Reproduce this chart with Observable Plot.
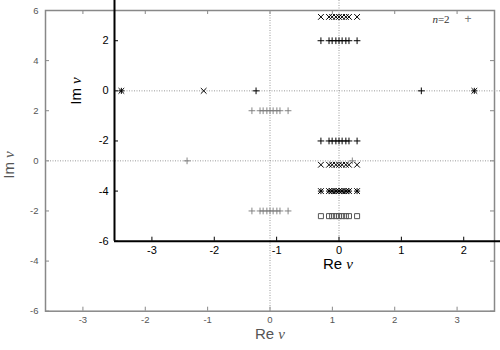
<!DOCTYPE html>
<html><head><meta charset="utf-8">
<script src="https://cdn.jsdelivr.net/npm/d3@7"></script>
<script src="https://cdn.jsdelivr.net/npm/@observablehq/plot@0.6"></script>
<style>
html,body{margin:0;padding:0;background:#fff;}
#wrap{position:relative;width:500px;height:350px;overflow:hidden;background:#fff;font-family:"Liberation Sans",Arial,sans-serif;}
#outer,#inner{position:absolute;width:500px;height:350px;}
#outer{left:0;top:0;}
#inner{left:69px;top:-70px;}
#outer svg,#inner svg{max-width:none;display:block;}
.lab{position:absolute;font-size:15px;white-space:nowrap;line-height:1;transform:translate(-50%,-50%);}
.lab i{font-family:"Liberation Serif",serif;font-style:italic;}
.rot{transform:translate(-50%,-50%) rotate(-90deg);}
.leg{position:absolute;font-family:"Liberation Serif",serif;font-size:11px;line-height:1;transform:translate(-50%,-50%);white-space:nowrap;}
</style></head>
<body><div id="wrap">
<div id="outer"></div>
<div id="inner"></div>
<div class="lab rot" style="left:9px;top:165px;color:#555">Im <i>v</i></div>
<div class="lab" style="left:270px;top:334px;color:#555">Re <i>v</i></div>
<div class="lab rot" style="left:76px;top:91px;color:#000">Im <i>v</i></div>
<div class="lab" style="left:338px;top:264px;color:#000">Re <i>v</i></div>
<div class="leg" style="left:441px;top:19px;color:#333"><i>n</i>=2</div>
<div class="leg" style="left:468px;top:19px;color:#777;font-family:'Liberation Sans';font-size:12px">+</div>
</div>
<script>
// ---- data ----
const xTicks = [-3, -2, -1, 0, 1, 2, 3];
const yTicks = [-6, -4, -2, 0, 2, 4, 6];
const innerXLabels = [-3, -2, -1, 0, 1, 2];   // inner tick labels visible in the window
const innerYLabels = [-6, -4, -2, 0, 2];
const clusterRe = [-0.29, -0.16, -0.11, -0.05, 0, 0.05, 0.11, 0.16, 0.29];
const plusRowIm = [2, -2];          // n=2 "+" rows
const plusAxisRe = [-1.33, 1.32];   // n=2 "+" on real axis
const crossRowIm = [2.95, -2.95];   // "x" rows
const starRowIm = [-4];             // "*" row
const squareRowIm = [-5];           // square row
const crossAxisRe = [-2.17];        // "x" on real axis
const starAxisRe = [-3.49, 2.17];   // bold "x" on real axis

// ---- tables built from the arrays ----
const rows = ims => ims.flatMap(im => clusterRe.map(re => ({re, im})));
const onAxis = res => res.map(re => ({re, im: 0}));
const plusPts = [...rows(plusRowIm), ...onAxis(plusAxisRe)];
const crossPts = [...rows(crossRowIm), ...onAxis(crossAxisRe)];
const starPts = [...rows(starRowIm), ...onAxis(starAxisRe)];
const squarePts = rows(squareRowIm);

// ---- layout ----
const W = 500, H = 350, mL = 45, mR = 6, mT = 10, mB = 39.3;
const xDom = [-3.6, 3.6], yDom = [-6, 6];
const uX = 4 / ((W - mL - mR) / (xDom[1] - xDom[0]));
const uY = 4 / ((H - mT - mB) / (yDom[1] - yDom[0]));
const fmt = d => String(d);

function ticks(stroke, sides) {
  const m = [];
  if (sides.includes("b")) m.push(Plot.ruleX(xTicks, {y1: yDom[0], y2: yDom[0] + uY, stroke}));
  if (sides.includes("t")) m.push(Plot.ruleX(xTicks, {y1: yDom[1], y2: yDom[1] - uY, stroke}));
  if (sides.includes("l")) m.push(Plot.ruleY(yTicks, {x1: xDom[0], x2: xDom[0] + uX, stroke}));
  if (sides.includes("r")) m.push(Plot.ruleY(yTicks, {x1: xDom[1], x2: xDom[1] - uX, stroke}));
  return m;
}

const base = {
  width: W, height: H, marginLeft: mL, marginRight: mR, marginTop: mT, marginBottom: mB,
  x: {domain: xDom, label: null}, y: {domain: yDom, label: null}
};

const outer = Plot.plot({
  ...base,
  style: {background: "transparent", fontFamily: "Liberation Sans", fontSize: "9.5px", color: "#555"},
  marks: [
    Plot.ruleX([0], {stroke: "#999", strokeDasharray: "1,1.5"}),
    Plot.ruleY([0], {stroke: "#999", strokeDasharray: "1,1.5"}),
    Plot.frame({stroke: "#888", strokeWidth: 1.5}),
    ...ticks("#888", "btlr"),
    Plot.axisX({ticks: xTicks, tickSize: 0, tickPadding: 5, tickFormat: fmt, label: null}),
    Plot.axisY({ticks: yTicks, tickSize: 0, tickPadding: 7, tickFormat: fmt, label: null}),
    Plot.dot(plusPts, {x: "re", y: "im", symbol: "plus", r: 2.3, stroke: "#777", strokeWidth: 0.9})
  ]
});
document.getElementById("outer").append(outer);

const inner = Plot.plot({
  ...base,
  style: {background: "transparent", fontFamily: "Liberation Sans", fontSize: "11px", color: "#000"},
  marks: [
    Plot.ruleX([0], {stroke: "#999", strokeDasharray: "1,1.5"}),
    Plot.ruleY([0], {stroke: "#999", strokeDasharray: "1,1.5"}),
    Plot.ruleX([xDom[0]], {stroke: "#000", strokeWidth: 2}),
    Plot.ruleY([yDom[0]], {stroke: "#000", strokeWidth: 2}),
    ...ticks("#000", "bl"),
    Plot.axisX({ticks: innerXLabels, tickSize: 0, tickPadding: 5, tickFormat: fmt, label: null}),
    Plot.axisY({ticks: innerYLabels, tickSize: 0, tickPadding: 6, tickFormat: fmt, label: null}),
    Plot.dot(plusPts, {x: "re", y: "im", symbol: "plus", r: 2.3, stroke: "#000", strokeWidth: 1}),
    Plot.dot(crossPts, {x: "re", y: "im", symbol: "times", r: 2.7, stroke: "#000", strokeWidth: 1}),
    Plot.dot(starPts, {x: "re", y: "im", symbol: "times", r: 2.7, stroke: "#000", strokeWidth: 1}),
    Plot.dot(starPts, {x: "re", y: "im", symbol: "plus", r: 2.1, stroke: "#000", strokeWidth: 1}),
    Plot.dot(squarePts, {x: "re", y: "im", symbol: "square2", r: 3.2, stroke: "#555", strokeWidth: 1, fill: "none"})
  ]
});
document.getElementById("inner").append(inner);
</script>
</body></html>
